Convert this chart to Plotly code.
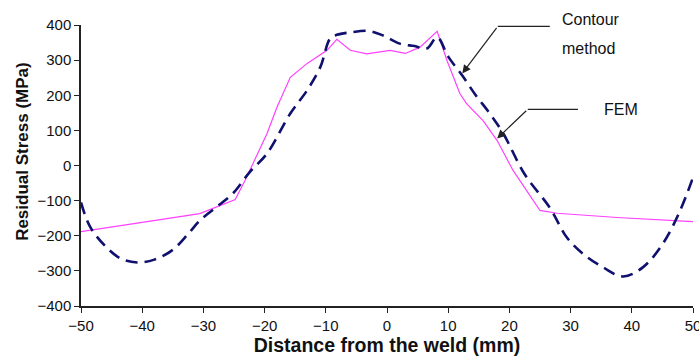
import plotly.graph_objects as go

# Contour method measurement (dashed navy)
contour_x = [-50, -48.5, -46, -43.5, -40.8, -38, -35, -32.5, -30.6, -28, -25.2, -22.5, -19.6,
             -15.8, -13.1, -10.9, -9.3, -8.2, -6, -3, -0.6, 2.1, 4.5, 6.5, 8.2, 10, 12.3, 14.5,
             16.8, 19, 22.5, 26.6, 29.4, 32, 35.3, 38.6, 41.8, 45.1, 47.9, 50]
contour_y = [-105, -175, -230, -265, -276, -268, -240, -195, -157, -120, -80, -20, 34,
             148, 213, 280, 361, 372, 379, 383, 370, 347, 340, 333, 365, 310, 256, 200,
             148, 91, -25, -120, -205, -251, -290, -316, -290, -222, -128, -34]

# FEM prediction (magenta)
fem_x = [-50, -30.6, -24.8, -23.2, -19.6, -18, -15.8, -13.1, -9.8, -8.2, -6, -3.3, 0.5, 3,
         5.4, 8.2, 9.8, 11.9, 13, 15.7, 18, 20.6, 25, 27.8, 37.6, 46.2, 50]
fem_y = [-188, -137, -97, -43, 91, 165, 251, 290, 328, 359, 328, 318, 328, 319,
         337, 382, 299, 205, 176, 128, 71, -14, -128, -136, -148, -157, -160]

x_ticks = [-50, -40, -30, -20, -10, 0, 10, 20, 30, 40, 50]
y_ticks = [-400, -300, -200, -100, 0, 100, 200, 300, 400]

fig = go.Figure()
fig.add_trace(go.Scatter(x=fem_x, y=fem_y, mode="lines",
                         line=dict(color="#ff40ff", width=1.2), name="FEM"))
fig.add_trace(go.Scatter(x=contour_x, y=contour_y, mode="lines", line_shape="spline",
                         line=dict(color="#10106e", width=2.6, dash="12px,7px"),
                         name="Contour method"))

font = dict(family="Liberation Sans, Arial, sans-serif", color="#111111")

# Leader lines and arrows for the labels
fig.add_shape(type="line", x0=18.1, x1=26.6, y0=396, y1=396,
              line=dict(color="#222222", width=1.2))
fig.add_shape(type="line", x0=23.0, x1=31.2, y0=160, y1=160,
              line=dict(color="#222222", width=1.2))
fig.add_annotation(x=12.3, y=262, ax=18.1, ay=396, axref="x", ayref="y",
                   xref="x", yref="y", showarrow=True, arrowhead=2, arrowsize=1.4,
                   arrowwidth=1.2, arrowcolor="#222222", text="")
fig.add_annotation(x=18.0, y=77, ax=23.0, ay=160, axref="x", ayref="y",
                   xref="x", yref="y", showarrow=True, arrowhead=2, arrowsize=1.4,
                   arrowwidth=1.2, arrowcolor="#222222", text="")
fig.add_annotation(x=0.782, y=1.02, xref="paper", yref="paper", text="Contour",
                   showarrow=False, xanchor="left", yanchor="middle",
                   font=dict(size=16, **font))
fig.add_annotation(x=0.782, y=0.916, xref="paper", yref="paper", text="method",
                   showarrow=False, xanchor="left", yanchor="middle",
                   font=dict(size=16, **font))
fig.add_annotation(x=0.852, y=0.70, xref="paper", yref="paper", text="FEM",
                   showarrow=False, xanchor="left", yanchor="middle",
                   font=dict(size=16, **font))

# Y axis title, set a little above the axis middle
fig.add_annotation(x=-0.0948, y=0.552, xref="paper", yref="paper",
                   text="<b>Residual Stress (MPa)</b>", textangle=-90,
                   showarrow=False, xanchor="center", yanchor="middle",
                   font=dict(size=17, **font))

fig.update_layout(
    width=699, height=356,
    margin=dict(l=81, r=6, t=25, b=50, autoexpand=False),
    paper_bgcolor="white", plot_bgcolor="white",
    showlegend=False,
    font=dict(size=15, **font),
)
fig.update_xaxes(range=[-50, 50], tickvals=x_ticks, showgrid=False, zeroline=False,
                 showline=True, linecolor="#222222", linewidth=1.5,
                 ticks="outside", ticklen=5, tickcolor="#222222",
                 ticklabeloverflow="allow", automargin=False,
                 title=dict(text="<b>Distance from the weld (mm)</b>", standoff=4,
                            font=dict(size=19.5, **font)))
fig.update_yaxes(range=[-400, 400], tickvals=y_ticks, showgrid=False, zeroline=False,
                 showline=True, linecolor="#222222", linewidth=1.5,
                 ticks="outside", ticklen=5, tickcolor="#222222", automargin=False)

fig.write_html("out.html")
